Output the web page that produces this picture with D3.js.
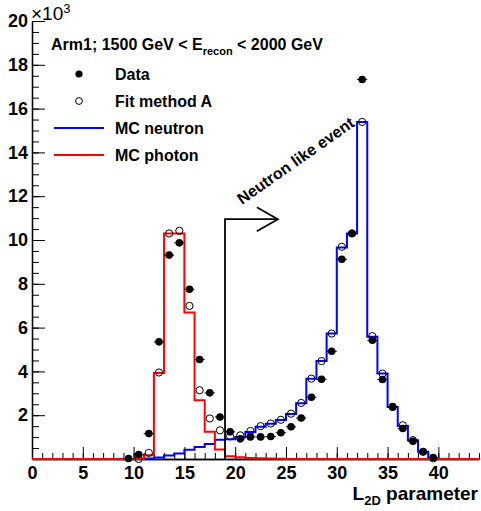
<!DOCTYPE html>
<html lang="en">
<head>
<meta charset="utf-8" />
<title>L2D parameter</title>
<script src="https://cdn.jsdelivr.net/npm/d3@7/dist/d3.min.js"></script>
<style>
    body { margin: 0; background: #fff; }
    svg text {
        font-family: "Liberation Sans", Arial, sans-serif;
        font-weight: bold;
        fill: #000;
    }
</style>
</head>
<body>
<script>
// histogram bins, lower edges (bin width 1)
var binLow = [0, 1, 2, 3, 4, 5, 6, 7, 8, 9, 10, 11, 12, 13, 14, 15, 16, 17, 18, 19, 20, 21,
              22, 23, 24, 25, 26, 27, 28, 29, 30, 31, 32, 33, 34, 35, 36, 37, 38, 39, 40, 41, 42, 43];

// MC templates, in units of 10^3
var mcNeutron = [0, 0, 0, 0, 0, 0, 0, 0, 0, 0, 0, 0.02, 0.07, 0.16, 0.25, 0.42, 0.55, 0.68, 0.88, 0.9, 1.0, 1.23,
                 1.47, 1.61, 1.78, 2.06, 2.55, 3.66, 4.47, 5.73, 9.66, 10.3, 15.39, 5.58, 3.9, 2.38, 1.51, 0.86, 0.33, 0.02, 0, 0, 0, 0];
var mcPhoton = [0, 0, 0, 0, 0, 0, 0, 0, 0, 0, 0, 0.17, 3.93, 10.3, 10.3, 6.69, 2.68, 1.24, 0.43, 0.13, 0.08, 0.05,
                0.03, 0.02, 0.01, 0, 0, 0, 0, 0, 0, 0, 0, 0, 0, 0, 0, 0, 0, 0, 0, 0, 0, 0];

// data points (bin centres)
var dataX = [9.5, 10.5, 11.5, 12.5, 13.5, 14.5, 15.5, 16.5, 17.5, 18.5, 19.5, 20.5, 21.5, 22.5, 23.5, 24.5,
             25.5, 26.5, 27.5, 28.5, 29.5, 30.5, 31.5, 32.5, 33.5, 34.5, 35.5, 36.5, 37.5, 38.5, 39.5];
var dataY = [0.02, 0.2, 1.16, 5.35, 9.31, 9.87, 7.75, 4.54, 3.02, 1.92, 1.24, 0.92, 1.01, 1.01, 1.03, 1.2,
             1.47, 1.87, 2.82, 3.64, 4.92, 9.12, 10.3, 17.33, 5.42, 3.63, 2.38, 1.39, 0.81, 0.33, 0.07];

// fit method A
var fitX = [10.5, 11.5, 12.5, 13.5, 14.5, 15.5, 16.5, 17.5, 18.5, 19.5, 20.5, 21.5, 22.5, 23.5, 24.5,
            25.5, 26.5, 27.5, 28.5, 29.5, 30.5, 31.5, 32.5, 33.5, 34.5, 35.5, 36.5, 37.5, 38.5, 39.5];
var fitY = [0.0, 0.28, 3.95, 10.3, 10.42, 6.99, 3.14, 1.85, 1.31, 1.03, 1.08, 1.28, 1.5, 1.62, 1.79,
            2.07, 2.56, 3.67, 4.47, 5.73, 9.69, 10.3, 15.39, 5.61, 3.9, 2.38, 1.54, 0.86, 0.33, 0.03];

var xTicks = [0, 5, 10, 15, 20, 25, 30, 35, 40];
var yTicks = [2, 4, 6, 8, 10, 12, 14, 16, 18, 20];

// "neutron like event" cut
var cutX = 19, cutTop = 10.95, cutArrowEnd = 24.2;

var width = 481, height = 511;

var x = d3.scaleLinear().domain([0, 44]).range([32, 479]);
var y = d3.scaleLinear().domain([0, 20]).range([459, 21]);

var svg = d3.select('body').append('svg')
    .attr('width', width)
    .attr('height', height);

// axes: ticks point into the plot like ROOT
var xMinor = d3.axisBottom(x).ticks(44).tickSize(-6).tickSizeOuter(0).tickFormat('');
svg.append('g').attr('transform', 'translate(0,' + y(0) + ')').call(xMinor);

var xAxis = d3.axisBottom(x).tickValues(xTicks).tickSize(-12).tickSizeOuter(0);
var gx = svg.append('g').attr('transform', 'translate(0,' + y(0) + ')').call(xAxis);
gx.selectAll('text').attr('y', 19.5).attr('dy', 0).style('font-size', '18px');

var yMinor = d3.axisLeft(y).ticks(40).tickSize(-7).tickSizeOuter(0).tickFormat('');
svg.append('g').attr('transform', 'translate(' + x(0) + ',0)').call(yMinor);

var yAxis = d3.axisLeft(y).tickValues(yTicks).tickSize(-13).tickSizeOuter(0).tickPadding(4);
var gy = svg.append('g').attr('transform', 'translate(' + x(0) + ',0)').call(yAxis);
gy.selectAll('text').style('font-size', '18px');

svg.selectAll('.domain').attr('stroke', '#000').attr('stroke-width', 1.3);
svg.selectAll('.tick line').attr('stroke', '#000').attr('stroke-width', 1);

// x10^3 multiplier
var mult = svg.append('text').attr('x', 31).attr('y', 20)
    .style('font-weight', 'normal').style('font-size', '19px');
mult.append('tspan').text('\u00d710');
mult.append('tspan').attr('dy', -7).style('font-size', '13px').text('3');

// axis title
var xt = svg.append('text').attr('x', 478).attr('y', 500)
    .attr('text-anchor', 'end').style('font-size', '19px');
xt.append('tspan').text('L');
xt.append('tspan').attr('dy', 5).style('font-size', '13px').text('2D');
xt.append('tspan').attr('dy', -5).text(' parameter');

// step histograms
function stepPoints(vals) {
    var pts = binLow.map(function(b, i) { return [b, vals[i]]; });
    pts.push([binLow[binLow.length - 1] + 1, vals[vals.length - 1]]);
    return pts;
}
var step = d3.line()
    .x(function(d) { return x(d[0]); })
    .y(function(d) { return y(d[1]); })
    .curve(d3.curveStepAfter);

svg.append('path').datum(stepPoints(mcNeutron))
    .attr('d', step).attr('fill', 'none').attr('stroke', '#0000ff').attr('stroke-width', 2);
svg.append('path').datum(stepPoints(mcPhoton))
    .attr('d', step).attr('fill', 'none').attr('stroke', '#ff0000').attr('stroke-width', 2);

// cut line and arrow
var arrow = svg.append('g').attr('fill', 'none').attr('stroke', '#000').attr('stroke-width', 1.8);
arrow.append('path')
    .attr('d', 'M' + x(cutX) + ',' + y(0) + 'V' + y(cutTop) + 'H' + x(cutArrowEnd));
arrow.append('path')
    .attr('d', 'M' + (x(cutArrowEnd) - 21) + ',' + (y(cutTop) - 12) +
               'L' + x(cutArrowEnd) + ',' + y(cutTop) +
               'L' + (x(cutArrowEnd) - 21) + ',' + (y(cutTop) + 12));

svg.append('text')
    .attr('transform', 'translate(242,205) rotate(-35)')
    .style('font-size', '16px')
    .text('Neutron like event');

// fit method A, open circles
svg.append('g').selectAll('circle')
    .data(fitX)
    .enter()
    .append('circle')
    .attr('cx', function(d) { return x(d); })
    .attr('cy', function(d, i) { return y(fitY[i]); })
    .attr('r', 3.6)
    .attr('fill', 'none')
    .attr('stroke', '#000')
    .attr('stroke-width', 1);

// data with x error bars
var pts = svg.append('g').selectAll('g')
    .data(dataX)
    .enter()
    .append('g');
pts.append('line')
    .attr('x1', function(d) { return x(d - 0.5); })
    .attr('x2', function(d) { return x(d + 0.5); })
    .attr('y1', function(d, i) { return y(dataY[i]); })
    .attr('y2', function(d, i) { return y(dataY[i]); })
    .attr('stroke', '#000').attr('stroke-width', 1);
pts.append('circle')
    .attr('cx', function(d) { return x(d); })
    .attr('cy', function(d, i) { return y(dataY[i]); })
    .attr('r', 3.8)
    .attr('fill', '#000');

// legend
var leg = svg.append('g').style('font-size', '16px');
var head = leg.append('text').attr('x', 51).attr('y', 49.5);
head.append('tspan').text('Arm1; 1500 GeV < E');
head.append('tspan').attr('dy', 5.5).style('font-size', '11px').text('recon');
head.append('tspan').attr('dy', -5.5).text(' < 2000 GeV');

leg.append('circle').attr('cx', 79).attr('cy', 74).attr('r', 3.6).attr('fill', '#000');
leg.append('text').attr('x', 115).attr('y', 80).text('Data');

leg.append('circle').attr('cx', 79).attr('cy', 101).attr('r', 3.4)
    .attr('fill', 'none').attr('stroke', '#000').attr('stroke-width', 1);
leg.append('text').attr('x', 115).attr('y', 106.7).text('Fit method A');

leg.append('line').attr('x1', 54).attr('x2', 104).attr('y1', 128).attr('y2', 128)
    .attr('stroke', '#0000ff').attr('stroke-width', 2);
leg.append('text').attr('x', 115).attr('y', 133.5).text('MC neutron');

leg.append('line').attr('x1', 54).attr('x2', 104).attr('y1', 155).attr('y2', 155)
    .attr('stroke', '#ff0000').attr('stroke-width', 2);
leg.append('text').attr('x', 115).attr('y', 160.7).text('MC photon');
</script>
</body>
</html>
